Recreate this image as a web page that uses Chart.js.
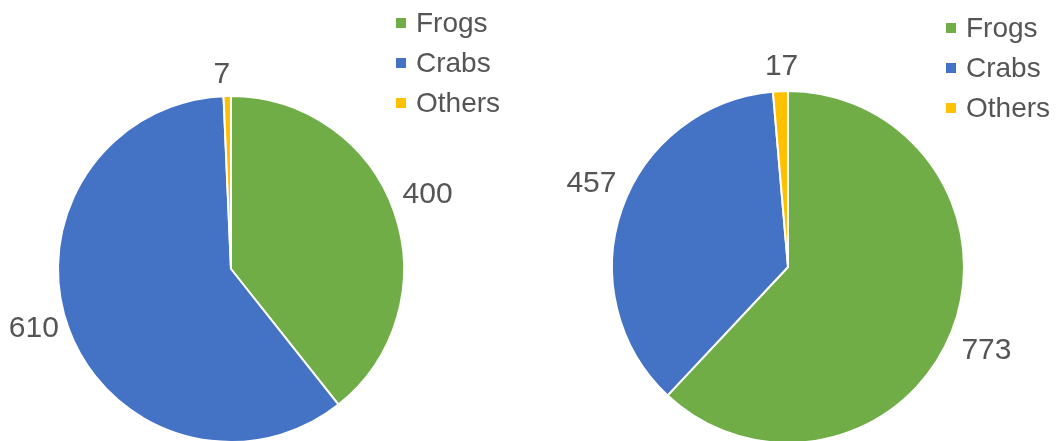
<!DOCTYPE html>
<html>
<head>
<meta charset="utf-8">
<script src="https://cdn.jsdelivr.net/npm/chart.js@4"></script>
<style>
  html, body { margin: 0; padding: 0; background: #fff; overflow: hidden; }
  body { width: 1057px; height: 441px; position: relative; }
  .wrap { position: absolute; left: 0; top: 0; width: 1057px; height: 470px; }
</style>
</head>
<body>
<div class="wrap"><canvas id="left"></canvas></div>
<div class="wrap"><canvas id="right"></canvas></div>
<script>
const categories = ['Frogs', 'Crabs', 'Others'];
const leftValues = [400, 610, 7];
const rightValues = [773, 457, 17];
const sliceColors = ['#70AD47', '#4472C4', '#FFC000'];

const TEXT = '#555555';
const FONT = '"Liberation Sans", Arial, sans-serif';

function makePlugin(legendX, legendY, nudges) {
  return {
    id: 'custom',
    afterDatasetsDraw(chart) {
      const ctx = chart.ctx;
      const meta = chart.getDatasetMeta(0);
      const values = chart.data.datasets[0].data;
      ctx.save();
      ctx.fillStyle = TEXT;
      ctx.font = '30px ' + FONT;
      ctx.textAlign = 'center';
      ctx.textBaseline = 'middle';
      meta.data.forEach((arc, i) => {
        const p = arc.getProps(['x', 'y', 'startAngle', 'endAngle', 'outerRadius'], true);
        const mid = (p.startAngle + p.endAngle) / 2;
        const ux = Math.cos(mid), uy = Math.sin(mid);
        const txt = String(values[i]);
        const w = ctx.measureText(txt).width;
        const h = 22;
        const d = p.outerRadius + 9 + Math.abs(ux) * w / 2 + Math.abs(uy) * h / 2;
        const n = nudges[i];
        ctx.fillText(txt, p.x + ux * d + n[0], p.y + uy * d + 1 + n[1]);
      });
      // legend
      ctx.font = '28px ' + FONT;
      ctx.textAlign = 'left';
      categories.forEach((c, i) => {
        const y = legendY + i * 40;
        ctx.fillStyle = sliceColors[i];
        ctx.fillRect(legendX, y - 5, 10, 10);
        ctx.fillStyle = TEXT;
        ctx.fillText(c, legendX + 20, y + 1);
      });
      ctx.restore();
    }
  };
}

function makePie(id, values, pad, legendX, legendY, nudges) {
  return new Chart(document.getElementById(id), {
    type: 'pie',
    data: {
      labels: categories,
      datasets: [{
        data: values,
        backgroundColor: sliceColors,
        borderColor: '#ffffff',
        borderWidth: 2,
        hoverOffset: 0
      }]
    },
    options: {
      responsive: true,
      maintainAspectRatio: false,
      animation: false,
      events: [],
      layout: { padding: pad },
      plugins: { legend: { display: false }, tooltip: { enabled: false } }
    },
    plugins: [makePlugin(legendX, legendY, nudges)]
  });
}

makePie('left', leftValues, { left: 57, top: 95, right: 1057 - 405, bottom: 470 - 443 }, 396, 23,
  [[-1, -6], [-1, -14], [-5, -2]]);
makePie('right', rightValues, { left: 611, top: 90, right: 1057 - 965, bottom: 470 - 444 }, 946, 28,
  [[1, 5], [4, -15], [2, -5]]);
</script>
</body>
</html>
